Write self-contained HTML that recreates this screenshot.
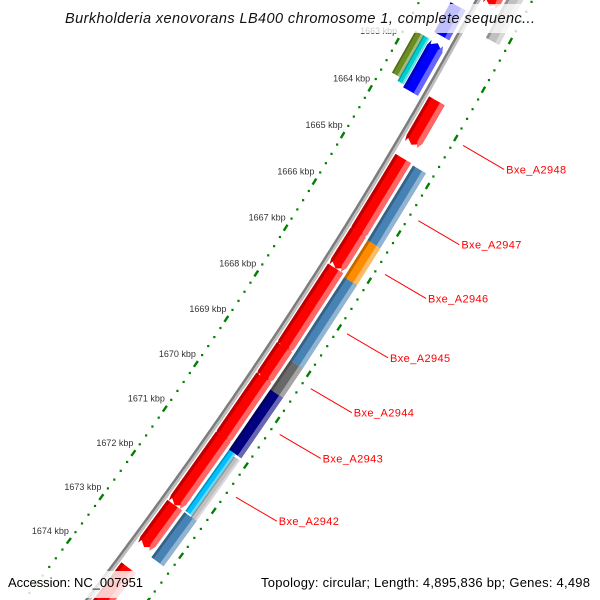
<!DOCTYPE html>
<html><head><meta charset="utf-8">
<style>
html,body{margin:0;padding:0;background:#fff;width:600px;height:600px;overflow:hidden;}
svg{display:block;font-family:"Liberation Sans",sans-serif;}
</style></head>
<body>
<svg id="map" width="600" height="600" viewBox="0 0 600 600" xmlns="http://www.w3.org/2000/svg">
<g id="ticks"></g>
<g id="backbone"></g>
<g id="features"></g>
<g id="labels"></g>
<rect x="58" y="4" width="484" height="29" fill="#fff" fill-opacity="0.75"/>
<text x="300" y="23" text-anchor="middle" font-style="italic" font-size="14.5" textLength="470" fill="#111">Burkholderia xenovorans LB400 chromosome 1, complete sequenc...</text>
<rect x="0" y="571" width="150" height="27" fill="#fff" fill-opacity="0.8"/>
<text x="8" y="587" font-size="13" textLength="135" fill="#000">Accession: NC_007951</text>
<rect x="256" y="571" width="344" height="27" fill="#fff" fill-opacity="0.8"/>
<text x="261" y="587" font-size="13" textLength="329" fill="#000">Topology: circular; Length: 4,895,836 bp; Genes: 4,498</text>
</svg>
<script>
// ---- data ----
const redStarts = [1661.0, 1663.59, 1664.80, 1666.37, 1667.14, 1668.84, 1669.51, 1670.81, 1672.33, 1673.74];
const redEnds   = [1661.62, 1664.51, 1666.44, 1667.14, 1668.90, 1669.56, 1670.88, 1672.33, 1673.27, 1675.0];
const outerStarts = [1661.2, 1664.82, 1666.40, 1667.19, 1668.98, 1669.62, 1670.94, 1672.33];
const outerEnds   = [1662.16, 1666.40, 1667.19, 1668.98, 1669.62, 1670.94, 1672.30, 1673.34];
const outerColors = ["#c0c0c0", "#4682b4", "#ff8c00", "#4682b4", "#696969", "#000080", "#00bfff", "#4682b4"];
const innerStarts = [1661.9, 1662.67];
const innerEnds   = [1662.52, 1663.68];
const cdsStarts = [1662.67, 1662.67];
const cdsEnds   = [1663.55, 1663.63];
const cdsColors = ["#6b8e23", "#00ced1"];
const geneLabels = ["Bxe_A2948", "Bxe_A2947", "Bxe_A2946", "Bxe_A2945", "Bxe_A2944", "Bxe_A2943", "Bxe_A2942"];
const labelGeneIdx = [1, 2, 3, 4, 5, 6, 7];
const kbpTicks = [1663, 1664, 1665, 1666, 1667, 1668, 1669, 1670, 1671, 1672, 1673, 1674];

// ---- geometry ----
const NS = "http://www.w3.org/2000/svg";
function bx(y){ return 478 - 0.5375*y - 0.0001875*y*y; }
function bdx(y){ return -0.5375 - 0.000375*y; }
const Y0 = -300, DY = 0.5, N = 2400;
const sTab = [0];
for (let i=1;i<=N;i++){ const y=Y0+i*DY; const d=bdx(y-DY/2); sTab.push(sTab[i-1]+DY*Math.sqrt(1+d*d)); }
function sOfY(y){ const f=(y-Y0)/DY; const i=Math.max(0,Math.min(N-1,Math.floor(f))); return sTab[i]+(f-i)*(sTab[i+1]-sTab[i]); }
function yOfS(s){ let lo=0,hi=N; while(hi-lo>1){const m=(lo+hi)>>1; if(sTab[m]<s) lo=m; else hi=m;} const f=(s-sTab[lo])/(sTab[hi]-sTab[lo]); return Y0+(lo+f)*DY; }
const S0 = sOfY(255), PXK = 55;
function kToS(k){ return S0 + (k-1667)*PXK; }
function P(k, r){ const y=yOfS(kToS(k)); const d=bdx(y); const n=Math.sqrt(1+d*d); return [bx(y)+r/n, y - d*r/n]; }
function T(k){ const y=yOfS(kToS(k)); const d=bdx(y); const n=Math.sqrt(1+d*d); return [d/n, 1/n]; }
function pts(arr){ return arr.map(p=>p[0].toFixed(1)+","+p[1].toFixed(1)).join(" "); }
function mix(hex, t, to){ const c=parseInt(hex.slice(1),16); const r=(c>>16)&255,g=(c>>8)&255,b=c&255; const m=v=>Math.round(v+(to-v)*t); return "rgb("+m(r)+","+m(g)+","+m(b)+")"; }
const HEAD = 0.11;

function shape(k1, k2, r0, r1, dir){
  const rm=(r0+r1)/2; const p=[];
  if (dir===1){ p.push(P(k1,r0),P(k1,r1),P(k2-HEAD,r1),P(k2,rm),P(k2-HEAD,r0)); }
  else if (dir===-1){ p.push(P(k1+HEAD,r0),P(k1,rm),P(k1+HEAD,r1),P(k2,r1),P(k2,r0)); }
  else { p.push(P(k1,r0),P(k1,r1),P(k2,r1),P(k2,r0)); }
  return p;
}
function drawGene(g, name, k1, k2, r0, r1, dir, color){
  const grp=document.createElementNS(NS,"g");
  
  
  const w=r1-r0;
  const layers=[[r0,r1,color],[r0,r0+w*0.18,mix(color,0.25,0)],[r0+w*0.7,r1,mix(color,0.4,255)]];
  layers.forEach(L=>{
    const pg=document.createElementNS(NS,"polygon");
    
    
    pg.setAttribute("points", pts(shape(k1,k2,L[0],L[1],dir)));
    pg.setAttribute("fill", L[2]);
    grp.appendChild(pg);
  });
  g.appendChild(grp);
}

// ticks
const tg=document.getElementById("ticks");
[-51, 48].forEach(r=>{
  for (let i=16600;i<=16760;i+=2){
    const k=i/10;
    const p=P(k,r);
    if (i%10===0){
      const t=T(k);
      const ln=document.createElementNS(NS,"line");
      
      
      ln.setAttribute("x1",p[0]-t[0]*3.5); ln.setAttribute("y1",p[1]-t[1]*3.5);
      ln.setAttribute("x2",p[0]+t[0]*3.5); ln.setAttribute("y2",p[1]+t[1]*3.5);
      ln.setAttribute("stroke","#008000"); ln.setAttribute("stroke-width","2.4");
      tg.appendChild(ln);
    } else {
      const d=document.createElementNS(NS,"rect");
      
      
      d.setAttribute("x",p[0]-1); d.setAttribute("y",p[1]-1); d.setAttribute("width",2.2); d.setAttribute("height",2.2);
      d.setAttribute("fill","#008000");
      tg.appendChild(d);
    }
  }
});
kbpTicks.forEach(k=>{
  const p=P(k,-51);
  const tx=document.createElementNS(NS,"text");
  
  
  tx.setAttribute("x",p[0].toFixed(1)); tx.setAttribute("y",(p[1]-7).toFixed(1));
  tx.setAttribute("text-anchor","end"); tx.setAttribute("font-size","9"); tx.setAttribute("fill","#333");
  tx.textContent=k+" kbp";
  tg.appendChild(tx);
});

// backbone
const bg=document.getElementById("backbone");
[[-1.3,"#7c7c7c",2.6],[1.3,"#bdbdbd",2.4]].forEach(b=>{
  const arr=[]; for(let k=1659;k<=1676.5;k+=0.1) arr.push(P(k,b[0]));
  const pl=document.createElementNS(NS,"polyline");
  
  
  pl.setAttribute("points",pts(arr)); pl.setAttribute("fill","none");
  pl.setAttribute("stroke",b[1]); pl.setAttribute("stroke-width",b[2]);
  bg.appendChild(pl);
});

// features
const fg=document.getElementById("features");
redStarts.forEach((s,i)=>drawGene(fg,"reverse-gene-"+i,s,redEnds[i],4,22,1,"#ff0000"));
outerStarts.forEach((s,i)=>{
  if (outerColors[i]==="#00bfff"){
    drawGene(fg,"outer-feature-"+i,s,outerEnds[i],25,33,0,"#00bfff");
    drawGene(fg,"outer-feature-"+i+"-b",s+0.05,outerEnds[i]+0.05,33,40,0,"#c0c0c0");
  } else drawGene(fg,"outer-feature-"+i,s,outerEnds[i],25,40,0,outerColors[i]);
});
innerStarts.forEach((s,i)=>drawGene(fg,"forward-gene-"+i,s,innerEnds[i],-23,-6,i===1?-1:0,"#0000ff"));
cdsStarts.forEach((s,i)=>drawGene(fg,"inner-cds-"+i,s,cdsEnds[i],i===0?-40:-31,i===0?-31:-24,0,cdsColors[i]));

// labels
const lg=document.getElementById("labels");
geneLabels.forEach((name,i)=>{
  const gi=labelGeneIdx[i];
  const k=(redStarts[gi]+redEnds[gi])/2;
  const p=P(k,58);
  const ln=document.createElementNS(NS,"line");
  
  
  ln.setAttribute("x1",p[0]); ln.setAttribute("y1",p[1]);
  ln.setAttribute("x2",p[0]+41); ln.setAttribute("y2",p[1]+24);
  ln.setAttribute("stroke","#ff0000"); ln.setAttribute("stroke-width","1");
  lg.appendChild(ln);
  const tx=document.createElementNS(NS,"text");
  
  
  tx.setAttribute("x",p[0]+43); tx.setAttribute("y",p[1]+28);
  tx.setAttribute("font-size","11"); tx.setAttribute("fill","#ff0000"); tx.setAttribute("letter-spacing","0.4");
  tx.textContent=name;
  lg.appendChild(tx);
});
</script>
</body></html>
